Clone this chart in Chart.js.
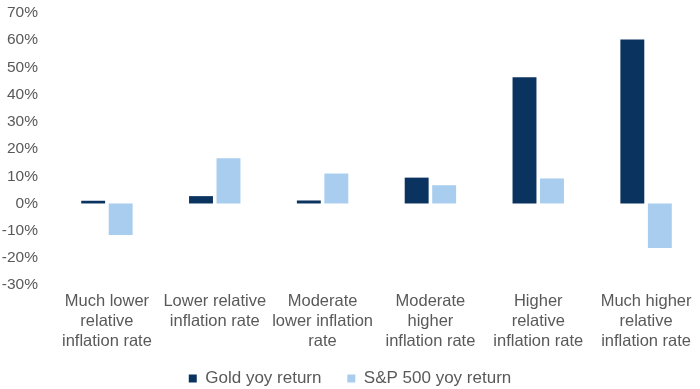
<!DOCTYPE html>
<html>
<head>
    <title>Gold vs S&amp;P 500</title>
    <script src="https://cdn.jsdelivr.net/npm/chart.js@4.4.0/dist/chart.umd.min.js"></script>
    <style>
        body { margin: 0; background: #fff; }
        .chart-container { width: 700px; height: 389px; }
    </style>
</head>
<body>
    <div class="chart-container"><canvas id="chart"></canvas></div>

    <script>
        // Values
        const categories = [
            ['Much lower', 'relative', 'inflation rate'],
            ['Lower relative', 'inflation rate'],
            ['Moderate', 'lower inflation', 'rate'],
            ['Moderate', 'higher', 'inflation rate'],
            ['Higher', 'relative', 'inflation rate'],
            ['Much higher', 'relative', 'inflation rate']
        ];
        const goldReturn = [1.0, 2.7, 1.1, 9.5, 46.4, 60.3];
        const spReturn = [-11.6, 16.6, 11.0, 6.7, 9.2, -16.4];
        const yTicks = { min: -30, max: 70, step: 10 };

        const textColor = '#595959';
        const family = 'Liberation Sans, Arial, sans-serif';
        const xFont = { family: family, size: 16.5, lineHeight: 1.21 };
        const yFont = { family: family, size: 15.5 };
        const legendFont = { family: family, size: 17 };

        // keep the legend short so it sits close to the bottom edge
        const legendFit = {
            id: 'legendFit',
            beforeInit(chart) {
                const fit = chart.legend.fit;
                chart.legend.fit = function () {
                    fit.bind(chart.legend)();
                    this.height = 32;
                };
            }
        };

        new Chart(document.getElementById('chart'), {
            type: 'bar',
            data: {
                labels: categories,
                datasets: [
                    {
                        label: 'Gold yoy return',
                        data: goldReturn,
                        backgroundColor: '#0a3360',
                        categoryPercentage: 0.51,
                        barPercentage: 0.87
                    },
                    {
                        label: 'S&P 500 yoy return',
                        data: spReturn,
                        backgroundColor: '#a8cdee',
                        categoryPercentage: 0.51,
                        barPercentage: 0.87
                    }
                ]
            },
            options: {
                responsive: true,
                maintainAspectRatio: false,
                animation: { duration: 0 },
                layout: { padding: 0 },
                scales: {
                    x: {
                        grid: { display: false, drawTicks: false },
                        border: { display: false },
                        ticks: { color: textColor, font: xFont, maxRotation: 0, autoSkip: false, padding: 6 }
                    },
                    y: {
                        min: yTicks.min,
                        max: yTicks.max,
                        grid: { display: false, drawTicks: false },
                        border: { display: false },
                        afterFit(scale) {
                            scale.width = 53;
                            scale.paddingTop = 13;
                            scale.paddingBottom = 10;
                        },
                        ticks: {
                            stepSize: yTicks.step,
                            color: textColor,
                            font: yFont,
                            padding: 15,
                            callback: v => v + '%'
                        }
                    }
                },
                plugins: {
                    legend: {
                        position: 'bottom',
                        labels: {
                            color: textColor,
                            font: legendFont,
                            boxWidth: 8,
                            boxHeight: 8,
                            padding: 13,
                            generateLabels(chart) {
                                const items = Chart.defaults.plugins.legend.labels.generateLabels(chart);
                                items.forEach((it, i) => { if (i < items.length - 1) it.text += '  \u2009'; });
                                return items;
                            }
                        }
                    },
                    tooltip: { enabled: false }
                }
            },
            plugins: [legendFit]
        });
    </script>
</body>
</html>
